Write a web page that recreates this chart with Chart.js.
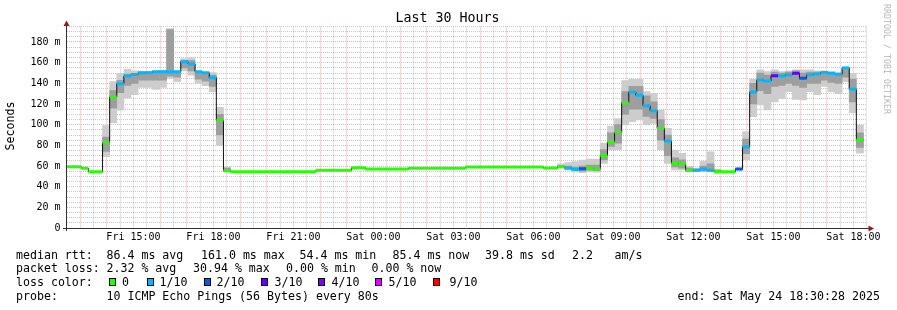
<!DOCTYPE html>
<html><head><meta charset="utf-8">
<script src="https://cdn.jsdelivr.net/npm/chart.js@4.4.1/dist/chart.umd.min.js"></script>
<style>
html,body{margin:0;padding:0;background:#fff;}
#wrap{position:relative;width:897px;height:310px;overflow:hidden;font-family:'DejaVu Sans Mono',monospace;color:#000;}
canvas{position:absolute;left:0;top:0;}
.t{position:absolute;white-space:pre;line-height:14px;font-size:11.6px;}
.sq{position:absolute;width:7px;height:8px;box-sizing:border-box;border:1px solid #000;top:277.7px;}
</style></head><body>
<div id="wrap">
<canvas id="c" width="897" height="310"></canvas>
<div class="t" style="left:0;width:895px;text-align:center;top:10px;font-size:13.3px;line-height:16px;">Last 30 Hours</div>
<div class="t" style="left:-40px;width:100px;text-align:center;top:119px;transform:rotate(-90deg);">Seconds</div>
<div class="t" style="left:827px;width:120px;text-align:center;top:53px;font-size:8.3px;line-height:12px;color:#b8b8b8;transform:rotate(90deg);">RRDTOOL / TOBI OETIKER</div>

<div class="t" style="left:16px;top:248px">median rtt:</div>
<div class="t" style="left:106.5px;top:248px">86.4 ms avg</div>
<div class="t" style="left:201px;top:248px">161.0 ms max</div>
<div class="t" style="left:299.5px;top:248px">54.4 ms min</div>
<div class="t" style="left:392.5px;top:248px">85.4 ms now</div>
<div class="t" style="left:485px;top:248px">39.8 ms sd</div>
<div class="t" style="left:572px;top:248px">2.2</div>
<div class="t" style="left:614.5px;top:248px">am/s</div>

<div class="t" style="left:16px;top:261.3px">packet loss:</div>
<div class="t" style="left:106.5px;top:261.3px">2.32 % avg</div>
<div class="t" style="left:193px;top:261.3px">30.94 % max</div>
<div class="t" style="left:286px;top:261.3px">0.00 % min</div>
<div class="t" style="left:371.5px;top:261.3px">0.00 % now</div>

<div class="t" style="left:16px;top:274.7px">loss color:</div>
<div class="sq" style="left:109px;background:#26ff00"></div><div class="t" style="left:122px;top:274.7px">0</div>
<div class="sq" style="left:146.5px;background:#00b8ff"></div><div class="t" style="left:159.5px;top:274.7px">1/10</div>
<div class="sq" style="left:204px;background:#0059ff"></div><div class="t" style="left:216.5px;top:274.7px">2/10</div>
<div class="sq" style="left:261px;background:#5e00ff"></div><div class="t" style="left:274.5px;top:274.7px">3/10</div>
<div class="sq" style="left:318px;background:#7e00ff"></div><div class="t" style="left:331.5px;top:274.7px">4/10</div>
<div class="sq" style="left:375px;background:#dd00ff"></div><div class="t" style="left:388.5px;top:274.7px">5/10</div>
<div class="sq" style="left:433px;background:#ff0000"></div><div class="t" style="left:449.5px;top:274.7px">9/10</div>

<div class="t" style="left:16px;top:288.7px">probe:</div>
<div class="t" style="left:106.5px;top:288.7px">10 ICMP Echo Pings (56 Bytes) every 80s</div>
<div class="t" style="left:677.5px;top:288.7px">end: Sat May 24 18:30:28 2025</div>
</div>
<script>
// ---- data (16-minute steps, left edge = Fri 12:30:28) ----
const STEP_H = 16 / 60;
const T0 = 12 + 30 / 60 + 28 / 3600;
const SPAN_H = 30;

const med = [
/*0*/ 59.3, 59.3, 57.8, 54.5, 54.5, 82.6, 126.8, 139.7, 147, 148.5,
/*10*/ 150.3, 150.3, 151.3, 151.3, 151.3, 151.3, 161, 158.7, 151.3, 150.3,
/*20*/ 145.5, 104.2, 55.5, 54.5, 54.5, 54.5, 54.5, 54.5, 54.5, 54.5,
/*30*/ 54.5, 54.5, 54.5, 54.5, 54.5, 55.8, 55.8, 55.8, 55.8, 55.8,
/*40*/ 58.3, 58.3, 57, 57, 57, 57, 57, 57, 57.8, 57.8,
/*50*/ 57.8, 57.8, 57.8, 57.8, 57.8, 57.8, 59, 59, 59, 59,
/*60*/ 59, 59, 59, 59, 59, 59, 59, 58, 58, 59.3,
/*70*/ 58, 56.8, 57.4, 58, 57.4, 70, 83.2, 92.6, 121.3, 131.6,
/*80*/ 128.4, 118.4, 113.5, 96.5, 84.2, 62.6, 62, 55.8, 55.8, 57,
/*90*/ 55.8, 54.5, 54.5, 54.5, 57, 78.4, 131.6, 143.2, 142.3, 147.4,
/*100*/ 147, 148.4, 149.7, 144.8, 148.4, 149, 150.6, 149.7, 148.7, 154.8,
/*110*/ 134.2, 85.2
];

const loss = [
/*0*/ 0, 0, 0, 0, 0, 0, 0, 1, 1, 1,
/*10*/ 1, 1, 1, 1, 1, 1, 1, 1, 1, 1,
/*20*/ 1, 0, 0, 0, 0, 0, 0, 0, 0, 0,
/*30*/ 0, 0, 0, 0, 0, 0, 0, 0, 0, 0,
/*40*/ 0, 0, 0, 0, 0, 0, 0, 0, 0, 0,
/*50*/ 0, 0, 0, 0, 0, 0, 0, 0, 0, 0,
/*60*/ 0, 0, 0, 0, 0, 0, 0, 0, 0, 0,
/*70*/ 1, 1, 2, 0, 0, 0, 0, 0, 0, 1,
/*80*/ 1, 1, 1, 0, 1, 0, 0, 0, 1, 1,
/*90*/ 1, 0, 0, 0, 2, 1, 1, 1, 1, 3,
/*100*/ 1, 1, 3, 2, 1, 1, 1, 1, 1, 1,
/*110*/ 1, 0
];

const smokeLo = [
/*0*/ null, null, null, null, null, 69, 102, 114, 126, 129,
/*10*/ 136, 136, 134.2, 136, 145, 141.6, 152, 148, 140, 137.7,
/*20*/ 132, 80, 55, null, null, null, null, null, null, null,
/*30*/ null, null, null, null, null, null, null, null, null, null,
/*40*/ null, null, null, null, null, null, null, null, null, null,
/*50*/ null, null, null, null, null, null, null, null, null, null,
/*60*/ null, null, null, null, null, null, null, null, null, 58,
/*70*/ 56, 54.5, 53.5, 54.5, 54, 62.6, 75.5, 75.5, 99.7, 102.9,
/*80*/ 104.5, 99.7, 101.3, 75.5, 62.6, 56.1, 56.1, 54.5, 54.5, 54.5,
/*90*/ 54.5, 54, null, null, 56, 65.8, 107.7, 119, 114.2, 122,
/*100*/ 125.5, 132, 124.5, 124, 132, 129, 137, 132, 130, 141.6,
/*110*/ 111.6, 72.3
];
const smokeHi = [
/*0*/ null, null, null, null, null, 99, 141.6, 149.7, 153.6, 152,
/*10*/ 151.5, 151.5, 152, 152.5, 193, 152, 164, 164.8, 151.5, 150.5,
/*20*/ 150.5, 116.8, 59.3, null, null, null, null, null, null, null,
/*30*/ null, null, null, null, null, null, null, null, null, null,
/*40*/ null, null, null, null, null, null, null, null, null, null,
/*50*/ null, null, null, null, null, null, null, null, null, null,
/*60*/ null, null, null, null, null, null, null, null, null, 62,
/*70*/ 63.2, 64.2, 65.8, 66.8, 66.8, 82, 98.7, 106, 142.6, 143.9,
/*80*/ 143.9, 132, 130, 114.2, 96.5, 75.5, 72.3, 60, 58, 64.8,
/*90*/ 73.8, 57, null, null, 58, 93.2, 143.9, 153, 151.3, 153,
/*100*/ 151.3, 152, 153, 153, 153, 152, 152, 151, 150, 156,
/*110*/ 149.7, 99.7
];
const coreLo = [
/*0*/ null, null, null, null, null, 74, 116, 131, 138, 140,
/*10*/ 143, 143, 143, 143, 147, 146, 155, 152, 144, 142,
/*20*/ 137, 90, 55, null, null, null, null, null, null, null,
/*30*/ null, null, null, null, null, null, null, null, null, null,
/*40*/ null, null, null, null, null, null, null, null, null, null,
/*50*/ null, null, null, null, null, null, null, null, null, null,
/*60*/ null, null, null, null, null, null, null, null, null, 58.5,
/*70*/ 57, 55.5, 55, 56, 55.5, 66, 79, 82, 110, 115,
/*80*/ 115, 108, 106, 85, 70, 59, 58, 55, 55, 55,
/*90*/ 55, 54.5, null, null, 56.5, 72, 120, 133, 130, 137,
/*100*/ 138, 140, 138, 136, 140, 140, 143, 141, 140, 146,
/*110*/ 122, 78
];
const coreHi = [
/*0*/ null, null, null, null, null, 88, 133, 143, 149, 149,
/*10*/ 151, 151, 151, 151, 192, 151, 162, 162, 151, 150,
/*20*/ 148, 110, 58, null, null, null, null, null, null, null,
/*30*/ null, null, null, null, null, null, null, null, null, null,
/*40*/ null, null, null, null, null, null, null, null, null, null,
/*50*/ null, null, null, null, null, null, null, null, null, null,
/*60*/ null, null, null, null, null, null, null, null, null, 60.5,
/*70*/ 60, 59, 60, 61, 61, 76, 92, 100, 132, 137,
/*80*/ 137, 128, 122, 105, 90, 68, 66, 58, 57, 60,
/*90*/ 62, 56, null, null, 57.5, 86, 140, 150, 148, 151,
/*100*/ 150, 151, 152, 150, 151, 151, 151, 151, 150, 155,
/*110*/ 144, 92
];

const lossColors = ['#26ff00', '#00b8ff', '#0059ff', '#5e00ff', '#7e00ff', '#dd00ff', '#dd00ff', '#dd00ff', '#dd00ff', '#ff0000', '#ff0000'];

const xLabelHours = [15, 18, 21, 24, 27, 30, 33, 36, 39, 42];
const xTickLabels = ['Fri 15:00', 'Fri 18:00', 'Fri 21:00', 'Sat 00:00', 'Sat 03:00', 'Sat 06:00', 'Sat 09:00', 'Sat 12:00', 'Sat 15:00', 'Sat 18:00'];
const yTickValues = [0, 20, 40, 60, 80, 100, 120, 140, 160, 180];
const yTickLabels = ['0', '20 m', '40 m', '60 m', '80 m', '100 m', '120 m', '140 m', '160 m', '180 m'];

// ---- build datasets ----
function band(lo, hi) {
  const out = [];
  for (let i = 0; i < med.length; i++) {
    if (lo[i] != null && hi[i] != null) out.push({ x: (i + 0.5) * STEP_H, y: [lo[i], hi[i]] });
  }
  return out;
}
const medianPts = med.map((m, i) => ({ x: i * STEP_H, y: m }));
medianPts.push({ x: med.length * STEP_H, y: med[med.length - 1] });
const lossPts = [];
med.forEach((m, i) => {
  lossPts.push({ x: i * STEP_H, y: m }, { x: (i + 1) * STEP_H, y: m }, { x: (i + 1) * STEP_H, y: null });
});

const MAJOR = 'rgba(235,70,70,0.42)';
const MINOR = 'rgba(110,110,110,0.38)';
const isWhole = v => Math.abs(v - Math.round(v)) < 1e-6;

const axisDeco = {
  id: 'axisDeco',
  afterDatasetsDraw(chart) {
    const { ctx, chartArea: a } = chart;
    const ax = a.left - 0.5, ay = a.bottom + 0.5;
    ctx.save();
    ctx.strokeStyle = '#303030';
    ctx.lineWidth = 1;
    ctx.beginPath();
    ctx.moveTo(a.left - 4, ay); ctx.lineTo(a.right + 3, ay);
    ctx.moveTo(ax, a.bottom + 3); ctx.lineTo(ax, a.top - 2);
    ctx.stroke();
    ctx.fillStyle = '#a01818';
    ctx.beginPath();
    ctx.moveTo(ax, a.top - 6); ctx.lineTo(ax - 3, a.top - 0.5); ctx.lineTo(ax + 3, a.top - 0.5); ctx.closePath();
    ctx.fill();
    ctx.beginPath();
    ctx.moveTo(a.right + 7, ay); ctx.lineTo(a.right + 1.5, ay - 3); ctx.lineTo(a.right + 1.5, ay + 3); ctx.closePath();
    ctx.fill();
    ctx.restore();
  }
};

new Chart(document.getElementById('c'), {
  type: 'bar',
  data: {
    datasets: [
      { type: 'bar', data: band(smokeLo, smokeHi), backgroundColor: '#cdcdcd', borderWidth: 0, grouped: false, barPercentage: 1, categoryPercentage: 1, order: 5 },
      { type: 'bar', data: band(coreLo, coreHi), backgroundColor: '#9e9e9e', borderWidth: 0, grouped: false, barPercentage: 1, categoryPercentage: 1, order: 4 },
      { type: 'line', data: medianPts, stepped: 'before', borderColor: '#101010', borderWidth: 1, pointRadius: 0, fill: false, order: 2 },
      { type: 'line', data: lossPts, borderWidth: 3, pointRadius: 0, fill: false, spanGaps: false, borderCapStyle: 'butt', order: 1,
        borderColor: '#26ff00',
        segment: { borderColor: c => lossColors[loss[Math.floor(c.p0DataIndex / 3)]] } }
    ]
  },
  options: {
    responsive: false, animation: false, devicePixelRatio: 1, events: [],
    layout: { padding: { left: 0, right: 30, top: 26.5, bottom: 0 } },
    plugins: { legend: { display: false }, tooltip: { enabled: false }, title: { display: false } },
    scales: {
      x: {
        type: 'linear', min: 0, max: SPAN_H, offset: false,
        afterFit(s) { s.height = 82; },
        afterBuildTicks(s) {
          const t = [];
          for (let h = 13; h <= 42.5 + 1e-9; h += 0.5) t.push({ value: h - T0 });
          s.ticks = t;
        },
        grid: { color: c => isWhole(T0 + c.tick.value) ? MAJOR : MINOR, lineWidth: 1, drawTicks: false, offset: false },
        border: { display: false, dash: [1, 1] },
        ticks: {
          autoSkip: false, maxRotation: 0, minRotation: 0, padding: 3, color: '#000',
          font: { family: 'DejaVu Sans Mono', size: 10, lineHeight: 1.2 },
          callback: v => { const j = xLabelHours.findIndex(h => Math.abs(T0 + v - h) < 1e-6); return j >= 0 ? xTickLabels[j] : ''; }
        }
      },
      y: {
        type: 'linear', min: 0, max: 195,
        afterFit(s) { s.width = 67; },
        afterBuildTicks(s) {
          const t = [];
          for (let v = 0; v <= 195; v += 5) t.push({ value: v });
          s.ticks = t;
        },
        grid: { color: c => (c.tick.value % 20 === 0) ? MAJOR : MINOR, lineWidth: 1, drawTicks: false },
        border: { display: false, dash: [1, 1] },
        ticks: {
          autoSkip: false, padding: 6.5, color: '#000',
          font: { family: 'DejaVu Sans Mono', size: 10, lineHeight: 1.2 },
          callback: v => { const j = yTickValues.indexOf(v); return j >= 0 ? yTickLabels[j] : ''; }
        }
      }
    }
  },
  plugins: [axisDeco]
});
</script>
</body></html>
